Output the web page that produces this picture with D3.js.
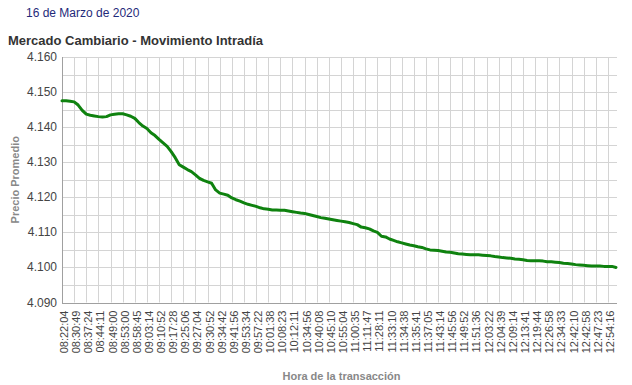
<!DOCTYPE html>
<html><head><meta charset="utf-8">
<script src="https://cdn.jsdelivr.net/npm/d3@7"></script>
<style>body{margin:0;background:#fff;}svg{display:block;font-family:"Liberation Sans",Arial,sans-serif;}</style>
</head><body><svg id="c" width="632" height="385"></svg>
<script>
const dateLabel = "16 de Marzo de 2020";
const title = "Mercado Cambiario - Movimiento Intradía";
const yTitle = "Precio Promedio";
const xTitle = "Hora de la transacción";
const timeLabels = ["08:22:04","08:30:49","08:37:24","08:44:11","08:49:00","08:53:00","08:58:45","09:03:14","09:10:52","09:17:28","09:25:06","09:27:04","09:30:52","09:34:42","09:41:56","09:53:34","09:57:22","10:01:38","10:08:23","10:12:11","10:34:56","10:40:08","10:45:10","10:55:04","11:00:35","11:11:47","11:28:11","11:33:10","11:34:38","11:35:41","11:37:05","11:43:14","11:45:56","11:49:52","11:51:36","12:03:22","12:04:39","12:09:14","12:13:41","12:19:44","12:26:58","12:34:33","12:42:10","12:42:58","12:47:23","12:54:16"];
const labelEvery = 3;
const prices = [4.1475,4.1475,4.1474,4.1472,4.1463,4.1448,4.1437,4.1434,4.1432,4.1430,
4.1429,4.1430,4.1435,4.1437,4.1438,4.1438,4.1435,4.1431,4.1425,4.1413,
4.1403,4.1396,4.1384,4.1376,4.1365,4.1355,4.1345,4.1330,4.1313,4.1293,
4.1286,4.1279,4.1273,4.1264,4.1254,4.1248,4.1244,4.1240,4.1221,4.1212,
4.1209,4.1206,4.1198,4.1193,4.1189,4.1184,4.1180,4.1177,4.1174,4.1170,
4.1167,4.1166,4.1164,4.1164,4.1163,4.1163,4.1161,4.1159,4.1157,4.1155,
4.1154,4.1151,4.1148,4.1145,4.1142,4.1140,4.1138,4.1136,4.1134,4.1132,
4.1130,4.1128,4.1125,4.1122,4.1115,4.1113,4.1110,4.1104,4.1100,4.1089,
4.1087,4.1081,4.1077,4.1073,4.1070,4.1067,4.1064,4.1062,4.1059,4.1057,
4.1053,4.1050,4.1049,4.1048,4.1046,4.1044,4.1043,4.1041,4.1039,4.1038,
4.1037,4.1036,4.1036,4.1036,4.1035,4.1034,4.1033,4.1031,4.1030,4.1028,
4.1027,4.1026,4.1024,4.1023,4.1022,4.1020,4.1019,4.1019,4.1019,4.1018,
4.1016,4.1016,4.1015,4.1014,4.1012,4.1011,4.1010,4.1008,4.1007,4.1006,
4.1005,4.1004,4.1004,4.1004,4.1003,4.1003,4.1003,4.1000];
const yTicks = [4.090,4.100,4.110,4.120,4.130,4.140,4.150,4.160];
const yMinor = [4.095,4.105,4.115,4.125,4.135,4.145,4.155];

const svg = d3.select("#c");
const pL = 62, pR = 617, pT = 57, pB = 302.5;
const x = d3.scaleLinear().domain([0, prices.length - 1]).range([pL, 616]);
const y = d3.scaleLinear().domain([4.090, 4.160]).range([pB, pT]);

svg.append("text").attr("x", 26).attr("y", 17).attr("font-size", 12).attr("fill", "#1f2a7a").text(dateLabel);
svg.append("text").attr("x", 8).attr("y", 45).attr("font-size", 13).attr("font-weight", "bold").attr("fill", "#333").text(title);

// gridlines
const g = svg.append("g");
g.selectAll(".hg").data(yTicks.concat(yMinor)).join("line")
  .attr("x1", pL).attr("x2", pR)
  .attr("y1", d => Math.round(y(d)) + 0.5).attr("y2", d => Math.round(y(d)) + 0.5)
  .attr("stroke", "#d4d4d4").attr("stroke-width", 1);
g.selectAll(".vg").data(timeLabels.slice(1)).join("line")
  .attr("x1", (d, i) => Math.round(x((i + 1) * labelEvery)) + 0.5)
  .attr("x2", (d, i) => Math.round(x((i + 1) * labelEvery)) + 0.5)
  .attr("y1", pT).attr("y2", pB)
  .attr("stroke", "#d4d4d4").attr("stroke-width", 1);

// axes lines
svg.append("line").attr("x1", pL + 0.5).attr("x2", pL + 0.5).attr("y1", pT).attr("y2", pB + 0.5).attr("stroke", "#a0a0a0");
svg.append("line").attr("x1", pL).attr("x2", pR).attr("y1", Math.round(pB) + 0.5).attr("y2", Math.round(pB) + 0.5).attr("stroke", "#a0a0a0");

// y tick labels
svg.selectAll(".yl").data(yTicks).join("text")
  .attr("x", 57).attr("y", d => y(d) + 4)
  .attr("text-anchor", "end").attr("font-size", 12).attr("fill", "#444")
  .text(d => d3.format(".3f")(d));

// x tick labels
svg.selectAll(".xl").data(timeLabels).join("text")
  .attr("transform", (d, i) => `translate(${x(i * labelEvery) + 6},${pB + 8}) rotate(-90)`)
  .attr("text-anchor", "end").attr("font-size", 11).attr("fill", "#444")
  .text(d => d);

// line
const line = d3.line().x((d, i) => x(i)).y(d => y(d)).curve(d3.curveLinear);
svg.append("path").datum(prices).attr("d", line)
  .attr("fill", "none").attr("stroke", "#0f820f").attr("stroke-width", 3)
  .attr("stroke-linejoin", "round").attr("stroke-linecap", "round");

// axis titles
svg.append("text").attr("transform", `translate(19,${(pT + pB) / 2}) rotate(-90)`)
  .attr("text-anchor", "middle").attr("font-size", 11).attr("font-weight", "bold").attr("fill", "#888").text(yTitle);
svg.append("text").attr("x", (pL + pR) / 2 + 2).attr("y", 380)
  .attr("text-anchor", "middle").attr("font-size", 11).attr("font-weight", "bold").attr("fill", "#888").text(xTitle);
</script></body></html>
